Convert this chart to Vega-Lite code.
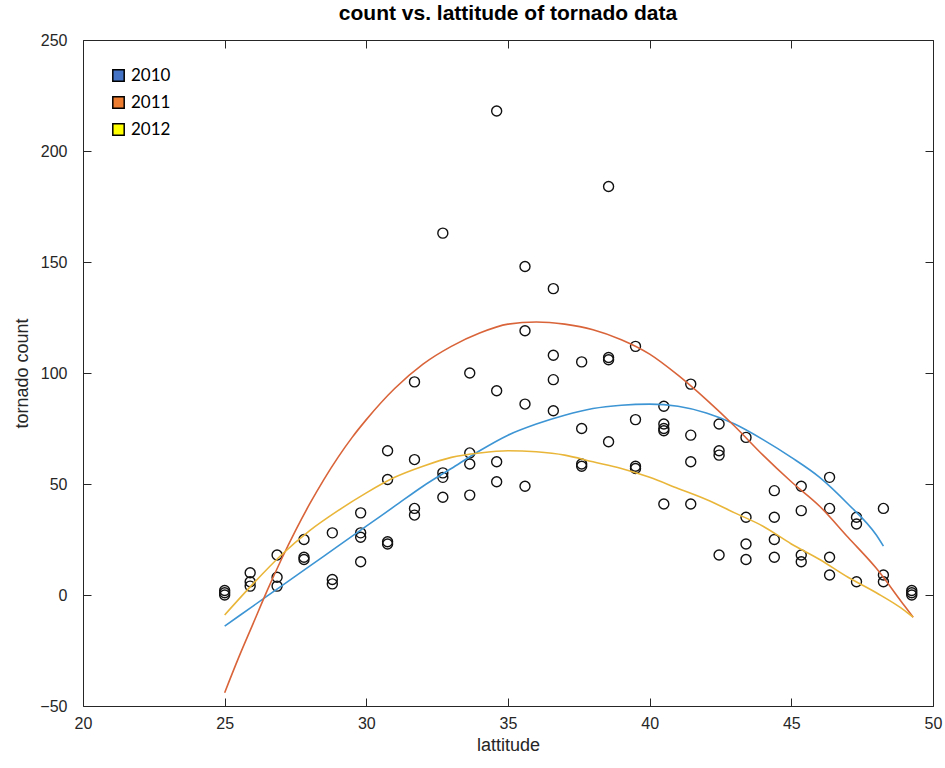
{
  "$schema": "https://vega.github.io/schema/vega-lite/v6.json",
  "width": 850,
  "height": 666,
  "autosize": "none",
  "padding": {"left": 83, "top": 40, "right": 12, "bottom": 62},
  "background": "white",
  "title": {"text": "count vs. lattitude of tornado data", "font": "Liberation Sans", "fontSize": 21, "fontWeight": "bold", "color": "#000000", "offset": 8, "anchor": "middle"},
  "config": {
    "view": {"stroke": "#262626", "strokeWidth": 1},
    "axis": {"labelFont": "Liberation Sans", "titleFont": "Liberation Sans", "labelFontSize": 16, "titleFontSize": 18, "labelColor": "#262626", "titleColor": "#262626", "titleFontWeight": "normal", "domain": false, "ticks": false, "grid": true, "gridColor": "#262626", "gridOpacity": 1, "gridWidth": 1}
  },
  "datasets": {
    "points": [
      {"lat": 25.0, "count": 0}, {"lat": 25.0, "count": 1}, {"lat": 25.0, "count": 2},
      {"lat": 25.9, "count": 10}, {"lat": 25.9, "count": 6}, {"lat": 25.9, "count": 4},
      {"lat": 26.85, "count": 18}, {"lat": 26.85, "count": 8}, {"lat": 26.85, "count": 4},
      {"lat": 27.8, "count": 25}, {"lat": 27.8, "count": 17}, {"lat": 27.8, "count": 16},
      {"lat": 28.8, "count": 28}, {"lat": 28.8, "count": 7}, {"lat": 28.8, "count": 5},
      {"lat": 29.8, "count": 37}, {"lat": 29.8, "count": 28}, {"lat": 29.8, "count": 26}, {"lat": 29.8, "count": 15},
      {"lat": 30.75, "count": 65}, {"lat": 30.75, "count": 52}, {"lat": 30.75, "count": 24}, {"lat": 30.75, "count": 23},
      {"lat": 31.7, "count": 96}, {"lat": 31.7, "count": 61}, {"lat": 31.7, "count": 39}, {"lat": 31.7, "count": 36},
      {"lat": 32.7, "count": 163}, {"lat": 32.7, "count": 55}, {"lat": 32.7, "count": 53}, {"lat": 32.7, "count": 44},
      {"lat": 33.65, "count": 100}, {"lat": 33.65, "count": 64}, {"lat": 33.65, "count": 59}, {"lat": 33.65, "count": 45},
      {"lat": 34.6, "count": 218}, {"lat": 34.6, "count": 92}, {"lat": 34.6, "count": 60}, {"lat": 34.6, "count": 51},
      {"lat": 35.6, "count": 148}, {"lat": 35.6, "count": 119}, {"lat": 35.6, "count": 86}, {"lat": 35.6, "count": 49},
      {"lat": 36.6, "count": 138}, {"lat": 36.6, "count": 108}, {"lat": 36.6, "count": 97}, {"lat": 36.6, "count": 83},
      {"lat": 37.6, "count": 105}, {"lat": 37.6, "count": 75}, {"lat": 37.6, "count": 59}, {"lat": 37.6, "count": 58},
      {"lat": 38.55, "count": 184}, {"lat": 38.55, "count": 107}, {"lat": 38.55, "count": 106}, {"lat": 38.55, "count": 69},
      {"lat": 39.5, "count": 112}, {"lat": 39.5, "count": 79}, {"lat": 39.5, "count": 58}, {"lat": 39.5, "count": 57},
      {"lat": 40.5, "count": 85}, {"lat": 40.5, "count": 77}, {"lat": 40.5, "count": 75}, {"lat": 40.5, "count": 74}, {"lat": 40.5, "count": 41},
      {"lat": 41.45, "count": 95}, {"lat": 41.45, "count": 72}, {"lat": 41.45, "count": 60}, {"lat": 41.45, "count": 41},
      {"lat": 42.45, "count": 77}, {"lat": 42.45, "count": 65}, {"lat": 42.45, "count": 63}, {"lat": 42.45, "count": 18},
      {"lat": 43.4, "count": 71}, {"lat": 43.4, "count": 35}, {"lat": 43.4, "count": 23}, {"lat": 43.4, "count": 16},
      {"lat": 44.4, "count": 47}, {"lat": 44.4, "count": 35}, {"lat": 44.4, "count": 25}, {"lat": 44.4, "count": 17},
      {"lat": 45.35, "count": 49}, {"lat": 45.35, "count": 38}, {"lat": 45.35, "count": 18}, {"lat": 45.35, "count": 15},
      {"lat": 46.35, "count": 53}, {"lat": 46.35, "count": 39}, {"lat": 46.35, "count": 17}, {"lat": 46.35, "count": 9},
      {"lat": 47.3, "count": 35}, {"lat": 47.3, "count": 32}, {"lat": 47.3, "count": 6},
      {"lat": 48.25, "count": 39}, {"lat": 48.25, "count": 9}, {"lat": 48.25, "count": 6},
      {"lat": 49.25, "count": 0}, {"lat": 49.25, "count": 1}, {"lat": 49.25, "count": 2}
    ],
    "curves": [
      {"year": "2010", "lat": 25.0, "value": -14}, {"year": "2010", "lat": 26.0, "value": -5}, {"year": "2010", "lat": 27.0, "value": 4},
      {"year": "2010", "lat": 28.0, "value": 13}, {"year": "2010", "lat": 29.0, "value": 22}, {"year": "2010", "lat": 30.0, "value": 31},
      {"year": "2010", "lat": 31.0, "value": 40}, {"year": "2010", "lat": 32.0, "value": 49}, {"year": "2010", "lat": 33.0, "value": 57},
      {"year": "2010", "lat": 34.0, "value": 65}, {"year": "2010", "lat": 35.0, "value": 72}, {"year": "2010", "lat": 36.0, "value": 77},
      {"year": "2010", "lat": 37.0, "value": 81}, {"year": "2010", "lat": 38.0, "value": 84}, {"year": "2010", "lat": 39.0, "value": 85.5},
      {"year": "2010", "lat": 40.0, "value": 86}, {"year": "2010", "lat": 41.0, "value": 85}, {"year": "2010", "lat": 42.0, "value": 82},
      {"year": "2010", "lat": 43.0, "value": 77}, {"year": "2010", "lat": 44.0, "value": 70}, {"year": "2010", "lat": 45.0, "value": 62},
      {"year": "2010", "lat": 46.0, "value": 53}, {"year": "2010", "lat": 47.0, "value": 41}, {"year": "2010", "lat": 48.0, "value": 27},
      {"year": "2010", "lat": 48.25, "value": 22},
      {"year": "2011", "lat": 25.0, "value": -44}, {"year": "2011", "lat": 25.5, "value": -28}, {"year": "2011", "lat": 26.0, "value": -13},
      {"year": "2011", "lat": 26.5, "value": 2}, {"year": "2011", "lat": 27.0, "value": 16}, {"year": "2011", "lat": 27.5, "value": 29},
      {"year": "2011", "lat": 28.0, "value": 41}, {"year": "2011", "lat": 28.5, "value": 52}, {"year": "2011", "lat": 29.0, "value": 62},
      {"year": "2011", "lat": 29.5, "value": 71}, {"year": "2011", "lat": 30.0, "value": 79}, {"year": "2011", "lat": 31.0, "value": 93},
      {"year": "2011", "lat": 32.0, "value": 104}, {"year": "2011", "lat": 33.0, "value": 112}, {"year": "2011", "lat": 34.0, "value": 118},
      {"year": "2011", "lat": 35.0, "value": 122}, {"year": "2011", "lat": 36.0, "value": 123}, {"year": "2011", "lat": 37.0, "value": 122},
      {"year": "2011", "lat": 38.0, "value": 119.5}, {"year": "2011", "lat": 39.0, "value": 115}, {"year": "2011", "lat": 40.0, "value": 108.5},
      {"year": "2011", "lat": 41.0, "value": 99}, {"year": "2011", "lat": 42.0, "value": 88}, {"year": "2011", "lat": 43.0, "value": 76},
      {"year": "2011", "lat": 44.0, "value": 63}, {"year": "2011", "lat": 45.0, "value": 51}, {"year": "2011", "lat": 46.0, "value": 40},
      {"year": "2011", "lat": 47.0, "value": 26}, {"year": "2011", "lat": 48.0, "value": 12}, {"year": "2011", "lat": 49.0, "value": -5},
      {"year": "2011", "lat": 49.3, "value": -10},
      {"year": "2012", "lat": 25.0, "value": -9}, {"year": "2012", "lat": 26.0, "value": 5}, {"year": "2012", "lat": 27.0, "value": 18},
      {"year": "2012", "lat": 28.0, "value": 29}, {"year": "2012", "lat": 29.0, "value": 38}, {"year": "2012", "lat": 30.0, "value": 46},
      {"year": "2012", "lat": 31.0, "value": 53}, {"year": "2012", "lat": 32.0, "value": 58}, {"year": "2012", "lat": 33.0, "value": 62},
      {"year": "2012", "lat": 34.0, "value": 64}, {"year": "2012", "lat": 35.0, "value": 65}, {"year": "2012", "lat": 36.0, "value": 64.5},
      {"year": "2012", "lat": 37.0, "value": 63}, {"year": "2012", "lat": 38.0, "value": 60}, {"year": "2012", "lat": 39.0, "value": 57},
      {"year": "2012", "lat": 40.0, "value": 53}, {"year": "2012", "lat": 41.0, "value": 48}, {"year": "2012", "lat": 42.0, "value": 43},
      {"year": "2012", "lat": 43.0, "value": 37}, {"year": "2012", "lat": 44.0, "value": 31}, {"year": "2012", "lat": 45.0, "value": 23},
      {"year": "2012", "lat": 46.0, "value": 16}, {"year": "2012", "lat": 47.0, "value": 8}, {"year": "2012", "lat": 48.0, "value": 1},
      {"year": "2012", "lat": 49.0, "value": -7}, {"year": "2012", "lat": 49.3, "value": -10}
    ],
    "legendrows": [
      {"label": "2010"}, {"label": "2011"}, {"label": "2012"}
    ]
  },
  "layer": [
    {
      "data": {"name": "points"},
      "mark": {"type": "point", "shape": "circle", "filled": false, "stroke": "#111111", "strokeWidth": 1.4, "size": 100, "opacity": 1},
      "encoding": {
        "x": {"field": "lat", "type": "quantitative", "scale": {"domain": [20, 50], "nice": false, "zero": false}, "axis": {"orient": "bottom", "title": "lattitude", "values": [20, 25, 30, 35, 40, 45, 50], "gridDash": [8, 650], "labelPadding": 9, "titlePadding": 5, "labelFlush": false}},
        "y": {"field": "count", "type": "quantitative", "scale": {"domain": [-50, 250], "nice": false, "zero": false}, "axis": {"orient": "left", "title": "tornado count", "values": [-50, 0, 50, 100, 150, 200, 250], "gridDash": [8, 834], "labelPadding": 16, "titlePadding": 8, "labelFlush": false}}
      }
    },
    {
      "data": {"name": "curves"},
      "mark": {"type": "line", "strokeWidth": 1.6, "interpolate": "monotone"},
      "encoding": {
        "x": {"field": "lat", "type": "quantitative"},
        "y": {"field": "value", "type": "quantitative"},
        "stroke": {"field": "year", "type": "nominal", "scale": {"range": ["#3d95d4", "#d9643a", "#e9b63a"]}, "legend": null}
      }
    },
    {
      "data": {"name": "legendrows"},
      "mark": {"type": "square", "size": 0, "opacity": 0},
      "encoding": {
        "fill": {"field": "label", "type": "nominal", "scale": {"domain": ["2010", "2011", "2012"], "range": ["#4472C4", "#ED7D31", "#FFFF00"]},
          "legend": {"orient": "top-left", "offset": 27, "title": null, "symbolType": "square", "symbolSize": 130, "symbolStrokeColor": "#000000", "symbolStrokeWidth": 1.5, "symbolOpacity": 1, "labelFont": "Lato", "labelFontSize": 17, "labelColor": "#000000", "rowPadding": 8, "labelOffset": 4}}
      }
    }
  ]
}
